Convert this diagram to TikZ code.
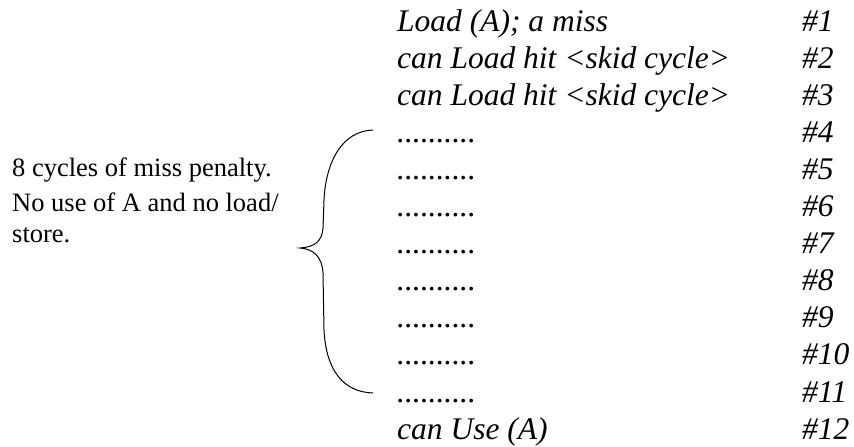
\documentclass[tikz,border=0pt]{standalone}
\usepackage{fontspec}
\setmainfont{Liberation Serif}
\begin{document}
\begin{tikzpicture}[x=1pt,y=-1pt,
  row/.style={anchor=base west,inner sep=0pt,font=\fontsize{31.5}{36}\selectfont\itshape},
  note/.style={anchor=base west,inner sep=0pt,font=\fontsize{26.5}{31}\selectfont}]
\useasboundingbox (0,0) rectangle (854,447);

% the twelve cycles
\node[row] (op1) at (397,31) {Load (A); a miss};
\node[row] (op2) at (397,68.1) {can Load hit <skid cycle>};
\node[row] (op3) at (397,105.2) {can Load hit <skid cycle>};
\foreach \i in {4,...,11}
  \node[row] (op\i) at (397,{31+37.1*(\i-1)}) {..........};
\node[row] (op12) at (397,439.1) {can Use (A)};
\foreach \i in {1,...,12}
  \node[row] (cyc\i) at (802,{31+37.1*(\i-1)}) {\#\i};

% note on the stall
\node[note] (pen) at (12,176) {8 cycles of miss penalty.};
\node[note] (nouse) at (12,211) {No use of A and no load/};
\node[note] (store) at (12,242) {store.};

% brace over cycles 4 to 11
\draw[line width=1pt] (373,130) .. controls (343,131) and (326,160) .. (324,200) -- (323,228)
  .. controls (322,242) and (314,247) .. (300,248)
  .. controls (314,249) and (322,257) .. (323,273) -- (324,330)
  .. controls (326,370) and (343,392) .. (373,393);
\end{tikzpicture}
\end{document}
